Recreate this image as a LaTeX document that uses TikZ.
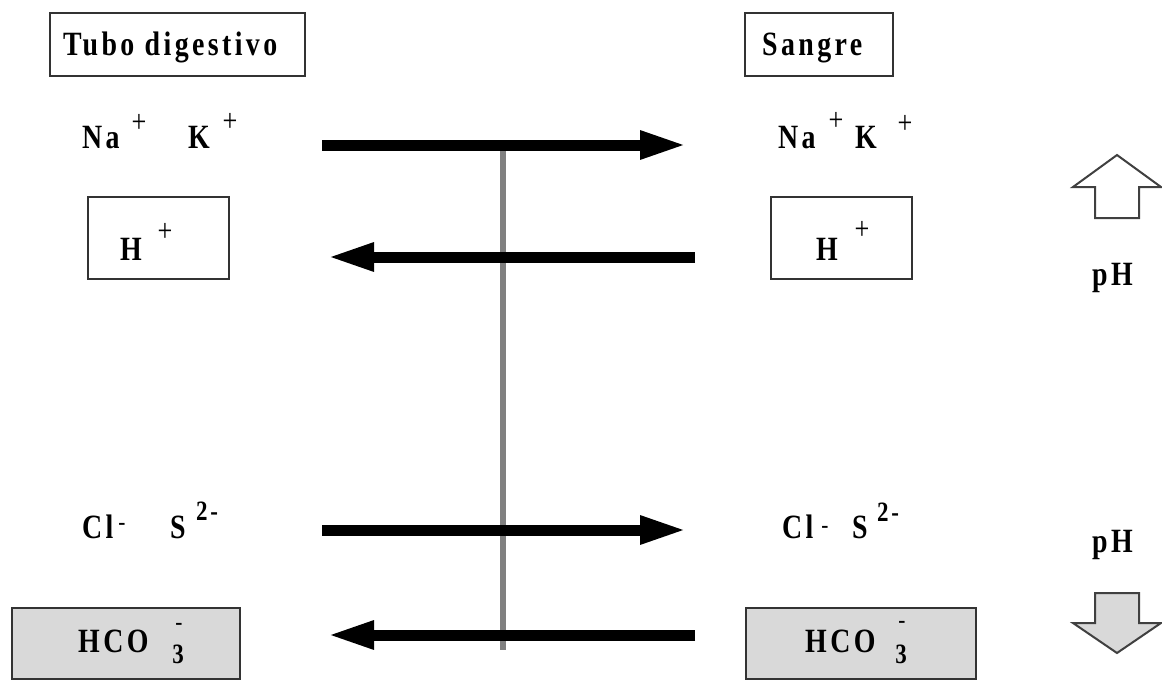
\documentclass[tikz,border=0pt]{standalone}
\usepackage{fontspec}
\setmainfont{Liberation Serif}[FakeStretch=0.82,LetterSpace=10]
\usetikzlibrary{arrows.meta}
\tikzset{
  lbl/.style={inner sep=0pt, anchor=base west, font=\fontsize{34}{34}\selectfont\bfseries},
  supp/.style={inner sep=0pt, anchor=center, font=\fontsize{32}{32}\selectfont},
  supm/.style={inner sep=0pt, anchor=center, font=\fontsize{26}{26}\selectfont},
  supb/.style={inner sep=0pt, anchor=center, font=\fontsize{28}{28}\selectfont\bfseries},
  box/.style={draw=black!80, line width=2.5pt, inner sep=0pt},
  flow/.style={line width=11pt, -{Triangle[length=47pt,width=26pt]}},
  wall/.style={draw=black!50, line width=6pt},
  block/.style={draw=black!75, line width=2pt, line join=miter},
}
\begin{document}
\begin{tikzpicture}[x=1pt,y=-1pt]
\useasboundingbox[fill=white] (0,0) rectangle (1162,680);
% boxes
\node[box, minimum width=255pt, minimum height=63pt] (tubo) at (177.5,44.5) {};
\node[box, minimum width=148pt, minimum height=63pt] (sang) at (819,44.5) {};
\node[box, minimum width=141pt, minimum height=82pt] (hl) at (158.5,238) {};
\node[box, minimum width=141pt, minimum height=82pt] (hr) at (841.5,238) {};
\node[box, fill=black!15, minimum width=228pt, minimum height=71pt] (bl) at (126,643.5) {};
\node[box, fill=black!15, minimum width=230pt, minimum height=71pt] (br) at (861,643.5) {};
% titles
\node[lbl] (t1) at (63,55) {Tubo digestivo};
\node[lbl] (t2) at (762,55) {Sangre};
% ions, left
\node[lbl] (na1) at (82,148) {Na};
\node[supp] (na1p) at (139,123) {+};
\node[lbl] (k1) at (188,148) {K};
\node[supp] (k1p) at (230,122) {+};
\node[lbl] (h1) at (120,260) {H};
\node[supp] (h1p) at (165,232) {+};
\node[lbl] (cl1) at (82,538) {Cl};
\node[supm] (cl1m) at (122,527) {-};
\node[lbl] (s1) at (170,538) {S};
\node[supb] (s1c) at (207,511) {2-};
\node[lbl] (hc1) at (78,652) {HCO};
\node[supm] (hc1m) at (179,627) {-};
\node[supb] (hc1n) at (178,654) {3};
% ions, right
\node[lbl] (na2) at (778,148) {Na};
\node[supp] (na2p) at (836,121) {+};
\node[lbl] (k2) at (855,148) {K};
\node[supp] (k2p) at (905,124) {+};
\node[lbl] (h2) at (816,260) {H};
\node[supp] (h2p) at (862,230) {+};
\node[lbl] (cl2) at (782,538) {Cl};
\node[supm] (cl2m) at (825,530) {-};
\node[lbl] (s2) at (852,538) {S};
\node[supb] (s2c) at (888,512) {2-};
\node[lbl] (hc2) at (805,652) {HCO};
\node[supm] (hc2m) at (902,625) {-};
\node[supb] (hc2n) at (901,654) {3};
% pH
\node[lbl] (ph1) at (1092,285) {pH};
\node[lbl] (ph2) at (1092,552) {pH};
% membrane
\coordinate (vtop) at (503,145);
\coordinate (vbot) at (503,650);
\draw[wall] (vtop) -- (vbot);
% flows
\coordinate (a1s) at (322,145); \coordinate (a1e) at (687,145);
\coordinate (a2s) at (695,257); \coordinate (a2e) at (327,257);
\coordinate (a3s) at (322,530); \coordinate (a3e) at (687,530);
\coordinate (a4s) at (695,635); \coordinate (a4e) at (327,635);
\draw[flow] (a1s) -- (a1e);
\draw[flow] (a2s) -- (a2e);
\draw[flow] (a3s) -- (a3e);
\draw[flow] (a4s) -- (a4e);
% pH block arrows
\draw[block, fill=white] (1117,155) -- (1161,187) -- (1139,187) -- (1139,218) -- (1095,218) -- (1095,187) -- (1073,187) -- cycle;
\draw[block, fill=black!15] (1095,593) -- (1139,593) -- (1139,623) -- (1161,623) -- (1117,653) -- (1073,623) -- (1095,623) -- cycle;
\end{tikzpicture}
\end{document}
